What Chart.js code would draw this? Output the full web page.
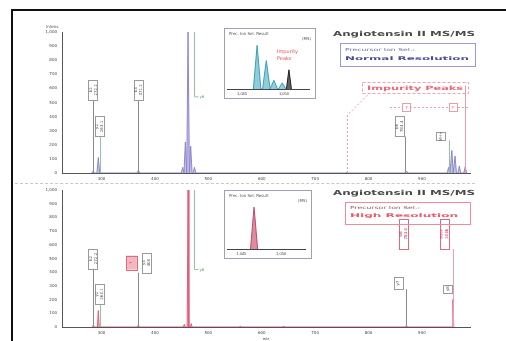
<!DOCTYPE html>
<html>
<head>
<meta charset="utf-8">
<script src="https://cdn.jsdelivr.net/npm/chart.js@4/dist/chart.umd.min.js"></script>
<style>
html, body { margin: 0; padding: 0; background: #fff; width: 506px; height: 341px; overflow: hidden; }
#frame { position: absolute; left: 11px; top: 9px; width: 520px; height: 360px; border-left: 2px solid #111; border-top: 2px solid #111; }
canvas { position: absolute; }
.inset { position: absolute; background: #fff; border: 1px solid #a0a0b0; overflow: hidden; }
.inset canvas { left: 0; top: 0; }
</style>
</head>
<body>
<div id="frame"></div>
<canvas id="top-chart" width="506" height="183" style="left:0;top:0"></canvas>
<canvas id="bottom-chart" width="506" height="158" style="left:0;top:183px"></canvas>
<div class="inset" style="left:224px;top:28px;width:90px;height:69px"><canvas id="inset-top" width="90" height="69"></canvas></div>
<div class="inset" style="left:224px;top:190px;width:86px;height:67px"><canvas id="inset-bottom" width="86" height="67"></canvas></div>
<script>
// axes
const xTicks = [300, 400, 500, 600, 700, 800, 900];
const yTicks = [0, 100, 200, 300, 400, 500, 600, 700, 800, 900, 1000];

// normal resolution precursor selection (m/z, intensity)
const normalMz = [284, 294, 369, 452, 457, 462, 467, 474, 760, 871, 950, 956, 962, 970, 981];
const normalInt = [12, 110, 18, 40, 220, 1000, 190, 40, 6, 14, 40, 160, 120, 50, 45];

// high resolution precursor selection
const highMz = [284, 294, 369, 455, 462, 468, 560, 640, 871, 958];
const highInt = [10, 120, 15, 20, 1000, 25, 8, 6, 12, 200];

// inset: isolated precursor region
const insetTicks = [1045, 1050];
const isoMz = [1046.8, 1047.9, 1048.8, 1049.8];
const isoInt = [100, 65, 20, 14];
const impMz = [1050.6];
const impInt = [44];
const isoHighMz = [1046.6];
const isoHighInt = [100];

function sticks(mz, inten, w) {
  const pts = [];
  mz.forEach((m, i) => {
    pts.push({ x: m - w, y: 0 }, { x: m, y: inten[i] }, { x: m + w, y: 0 });
  });
  return pts;
}

function vText(ctx, lines, cx, cy, color, size) {
  ctx.save();
  ctx.translate(cx, cy);
  ctx.rotate(-Math.PI / 2);
  ctx.fillStyle = color;
  ctx.font = size + "px 'DejaVu Sans'";
  ctx.textAlign = "center";
  ctx.textBaseline = "middle";
  lines.forEach((t, i) => ctx.fillText(t, 0, (i - (lines.length - 1) / 2) * (size + 1)));
  ctx.restore();
}

function stretchText(ctx, text, x, y, w, font, color) {
  ctx.save();
  ctx.font = font;
  ctx.fillStyle = color;
  ctx.textBaseline = "middle";
  const m = ctx.measureText(text).width;
  ctx.translate(x, y);
  ctx.scale(w / m, 1);
  ctx.fillText(text, 0, 0);
  ctx.restore();
}

function labelPlugin(labels, extra) {
  return {
    id: "labels",
    afterDatasetsDraw(chart) {
      const { ctx, scales: { x, y } } = chart;
      labels.forEach((a) => {
        const px = x.getPixelForValue(a.mz);
        const py = y.getPixelForValue(a.at);
        const h = a.h || 20, w = a.w || 9;
        ctx.save();
        ctx.strokeStyle = a.line;
        ctx.lineWidth = 1;
        ctx.beginPath();
        ctx.moveTo(Math.round(px) + 0.5, y.getPixelForValue(0));
        ctx.lineTo(Math.round(px) + 0.5, py + h / 2);
        ctx.stroke();
        const bx = px + (a.dx || 0);
        ctx.fillStyle = a.fill || "#fff";
        ctx.fillRect(bx - w / 2, py - h / 2, w, h);
        ctx.strokeStyle = a.box || "#9a9a9a";
        ctx.strokeRect(Math.round(bx - w / 2) + 0.5, Math.round(py - h / 2) + 0.5, w, h);
        vText(ctx, a.text, bx, py, a.color || "#555", 4);
        ctx.restore();
      });
      if (extra) extra(chart);
    },
  };
}

function mainOptions(padTop, xHeight, showTitle) {
  return {
    responsive: false,
    animation: false,
    layout: { padding: { left: 20, right: 36, top: padTop, bottom: 0 } },
    plugins: { legend: { display: false }, tooltip: { enabled: false } },
    scales: {
      x: {
        type: "linear",
        min: 226,
        max: 990,
        afterBuildTicks: (s) => { s.ticks = xTicks.map((v) => ({ value: v })); },
        afterFit: (s) => { s.height = xHeight; },
        grid: { display: false, drawTicks: true, tickLength: 3, color: "#666" },
        border: { color: "#555", width: 1 },
        ticks: { font: { size: 4, family: "DejaVu Sans" }, color: "#444", padding: 1, maxRotation: 0 },
        title: { display: showTitle, text: "m/z", font: { size: 4 }, color: "#444", padding: 0 },
      },
      y: {
        min: 0,
        max: 1000,
        afterBuildTicks: (s) => { s.ticks = yTicks.map((v) => ({ value: v })); },
        afterFit: (s) => { s.width = 42; },
        grid: { display: false, drawTicks: true, tickLength: 3 },
        border: { color: "#555", width: 1 },
        ticks: { font: { size: 4, family: "DejaVu Sans" }, color: "#444", padding: 2 },
      },
    },
  };
}

const topLabels = [
  { mz: 284, at: 590, text: ["b2", "272.2"], line: "#8a8a8a" },
  { mz: 297, at: 330, text: ["y2", "263.1"], line: "#8fc79a" },
  { mz: 369, at: 590, text: ["b3", "371.2"], line: "#8a8a8a" },
  { mz: 869, at: 330, text: ["b6", "784.4"], line: "#8a8a8a", dx: -6 },
  { mz: 950, at: 260, text: ["MH+"], line: "#8fc79a", dx: -8, h: 8 },
];

const bottomLabels = [
  { mz: 284, at: 500, text: ["b2", "272.2"], line: "#8a8a8a" },
  { mz: 297, at: 240, text: ["y2", "263.1"], line: "#8fc79a" },
  { mz: 369, at: 470, text: ["y3", "400"], line: "#8a8a8a", dx: 8, fill: "#fff" },
  { mz: 356, at: 470, text: ["?"], line: "rgba(0,0,0,0)", box: "#e06a7a", fill: "#f3b7c4", color: "#c03050", w: 11, h: 14 },
  { mz: 866, at: 680, text: ["b6", "784.4"], line: "rgba(0,0,0,0)", box: "#e06a7a", color: "#c03050", h: 30 },
  { mz: 871, at: 320, text: ["y7"], line: "#8a8a8a", dx: -8, h: 12 },
  { mz: 958, at: 680, text: ["MH+", "1046"], line: "#e9a0b0", box: "#e06a7a", color: "#c03050", dx: -8, h: 30 },
  { mz: 948, at: 280, text: ["y8"], line: "rgba(0,0,0,0)", h: 8 },
];

function drawTopExtra(chart) {
  const { ctx, scales: { x, y } } = chart;
  const base = y.getPixelForValue(0);
  // leader on the main peak
  const gx = Math.round(x.getPixelForValue(473)) + 0.5;
  ctx.save();
  ctx.strokeStyle = "#8fc79a";
  ctx.beginPath();
  ctx.moveTo(gx, y.getPixelForValue(1000));
  ctx.lineTo(gx, y.getPixelForValue(540));
  ctx.lineTo(gx + 4, y.getPixelForValue(540));
  ctx.stroke();
  ctx.fillStyle = "#6a9a70";
  ctx.font = "4px 'DejaVu Sans'";
  ctx.fillText("y6", gx + 5, y.getPixelForValue(530));
  // impurity peaks annotation
  ctx.strokeStyle = "#ee9aaa";
  ctx.setLineDash([2, 2]);
  const ix1 = Math.round(x.getPixelForValue(760)) + 0.5;
  const ix2 = Math.round(x.getPixelForValue(981)) + 0.5;
  const hy = Math.round(y.getPixelForValue(470)) + 0.5;
  ctx.beginPath();
  ctx.moveTo(ix1, base);
  ctx.lineTo(ix1, y.getPixelForValue(410));
  ctx.lineTo(x.getPixelForValue(800), y.getPixelForValue(560));
  ctx.moveTo(x.getPixelForValue(840), hy);
  ctx.lineTo(ix2 + 4, hy);
  ctx.stroke();
  ctx.setLineDash([]);
  ctx.beginPath();
  ctx.moveTo(ix2, base);
  ctx.lineTo(ix2, y.getPixelForValue(620));
  ctx.stroke();
  [871, 958].forEach((m) => {
    const px = x.getPixelForValue(m);
    ctx.fillStyle = "#fff";
    ctx.fillRect(px - 4, hy - 4, 8, 8);
    ctx.strokeRect(Math.round(px - 4) + 0.5, hy - 4, 8, 8);
    ctx.fillStyle = "#d04060";
    ctx.textAlign = "center";
    ctx.fillText("?", px, hy + 1.5);
  });
  ctx.textAlign = "left";
  // Impurity Peaks box
  ctx.strokeStyle = "#f0a0b0";
  ctx.setLineDash([3, 2]);
  ctx.strokeRect(362.5, 82.5, 106, 11);
  ctx.setLineDash([]);
  stretchText(ctx, "Impurity Peaks", 367, 88, 96, "bold 6px 'DejaVu Sans'", "#e86a78");
  // title and resolution box
  stretchText(ctx, "Angiotensin II MS/MS", 333, 34, 142, "bold 7px 'DejaVu Sans'", "#4a4a4a");
  ctx.strokeStyle = "#9a9ad8";
  ctx.strokeRect(340.5, 43.5, 135, 23);
  stretchText(ctx, "Precursor Ion Sel.:", 345, 50, 70, "4px 'DejaVu Sans'", "#6a6aa8");
  stretchText(ctx, "Normal Resolution", 345, 59, 124, "bold 5px 'DejaVu Sans'", "#4a4a98");
  // axis caption
  ctx.fillStyle = "#555";
  ctx.font = "4px 'DejaVu Sans'";
  ctx.fillText("Intens.", 46, 28);
  ctx.restore();
}

function drawBottomExtra(chart) {
  const { ctx, scales: { x, y } } = chart;
  const gx = Math.round(x.getPixelForValue(473)) + 0.5;
  ctx.save();
  ctx.strokeStyle = "#8fc79a";
  ctx.beginPath();
  ctx.moveTo(gx, y.getPixelForValue(1000));
  ctx.lineTo(gx, y.getPixelForValue(420));
  ctx.lineTo(gx + 4, y.getPixelForValue(420));
  ctx.stroke();
  ctx.fillStyle = "#6a9a70";
  ctx.font = "4px 'DejaVu Sans'";
  ctx.fillText("y6", gx + 5, y.getPixelForValue(410));
  stretchText(ctx, "Angiotensin II MS/MS", 333, 193 - 183, 142, "bold 7px 'DejaVu Sans'", "#4a4a4a");
  ctx.strokeStyle = "#f08a9a";
  ctx.strokeRect(345.5, 202.5 - 183, 125, 22);
  stretchText(ctx, "Precursor Ion Sel.:", 350, 208 - 183, 70, "4px 'DejaVu Sans'", "#8a5a6a");
  stretchText(ctx, "High Resolution", 350, 216 - 183, 108, "bold 5px 'DejaVu Sans'", "#e85a6a");
  ctx.restore();
}

new Chart(document.getElementById("top-chart"), {
  type: "scatter",
  data: {
    datasets: [{
      data: sticks(normalMz, normalInt, 2.6),
      showLine: true,
      borderColor: "#8c88cc",
      backgroundColor: "rgba(150,145,215,0.55)",
      borderWidth: 1,
      fill: "origin",
      pointRadius: 0,
    }],
  },
  options: mainOptions(32, 10, false),
  plugins: [labelPlugin(topLabels, drawTopExtra)],
});

new Chart(document.getElementById("bottom-chart"), {
  type: "scatter",
  data: {
    datasets: [{
      data: sticks(highMz, highInt, 1.6),
      showLine: true,
      borderColor: "#e25c7a",
      backgroundColor: "rgba(235,120,150,0.5)",
      borderWidth: 1,
      fill: "origin",
      pointRadius: 0,
    }],
  },
  options: mainOptions(7, 14, true),
  plugins: [labelPlugin(bottomLabels, drawBottomExtra)],
});

function insetOptions(padTop) {
  return {
    responsive: false,
    animation: false,
    layout: { padding: { left: 2, right: 6, top: padTop, bottom: 0 } },
    plugins: { legend: { display: false }, tooltip: { enabled: false } },
    scales: {
      x: {
        type: "linear",
        min: 1043.2,
        max: 1053,
        afterBuildTicks: (s) => { s.ticks = insetTicks.map((v) => ({ value: v })); },
        afterFit: (s) => { s.height = 9; },
        grid: { display: false, tickLength: 2 },
        border: { color: "#444", width: 1 },
        ticks: { font: { size: 4 }, color: "#444", padding: 0 },
      },
      y: { display: false, min: 0, max: 110 },
    },
  };
}

function insetTitle(title) {
  return {
    id: "insetTitle",
    afterDraw(chart) {
      const ctx = chart.ctx;
      ctx.save();
      ctx.fillStyle = "#555";
      ctx.font = "4px 'DejaVu Sans'";
      ctx.fillText(title, 4, 6);
      ctx.textAlign = "right";
      ctx.fillText("(MS)", chart.width - 4, 11);
      ctx.restore();
    },
  };
}

new Chart(document.getElementById("inset-top"), {
  type: "scatter",
  data: {
    datasets: [
      { data: sticks(isoMz, isoInt, 0.45), showLine: true, borderColor: "#3aa0b8", backgroundColor: "rgba(70,170,195,0.6)", fill: "origin", borderWidth: 1, pointRadius: 0 },
      { data: sticks(impMz, impInt, 0.3), showLine: true, borderColor: "#222", backgroundColor: "rgba(30,30,40,0.7)", fill: "origin", borderWidth: 1, pointRadius: 0 },
    ],
  },
  options: insetOptions(12),
  plugins: [insetTitle("Prec. Ion Sel. Result"), {
    id: "impText",
    afterDraw(chart) {
      const ctx = chart.ctx;
      ctx.save();
      ctx.fillStyle = "#e0505a";
      ctx.font = "5px 'DejaVu Sans'";
      ctx.fillText("Impurity", 52, 24);
      ctx.fillText("Peaks", 52, 31);
      ctx.restore();
    },
  }],
});

new Chart(document.getElementById("inset-bottom"), {
  type: "scatter",
  data: {
    datasets: [
      { data: sticks(isoHighMz, isoHighInt, 0.45), showLine: true, borderColor: "#c04a6a", backgroundColor: "rgba(200,80,110,0.65)", fill: "origin", borderWidth: 1, pointRadius: 0 },
    ],
  },
  options: insetOptions(12),
  plugins: [insetTitle("Prec. Ion Sel. Result")],
});
</script>
<div style="position:absolute;left:15px;top:183px;width:460px;border-top:1px dashed #c8c8c8"></div>
</body>
</html>
